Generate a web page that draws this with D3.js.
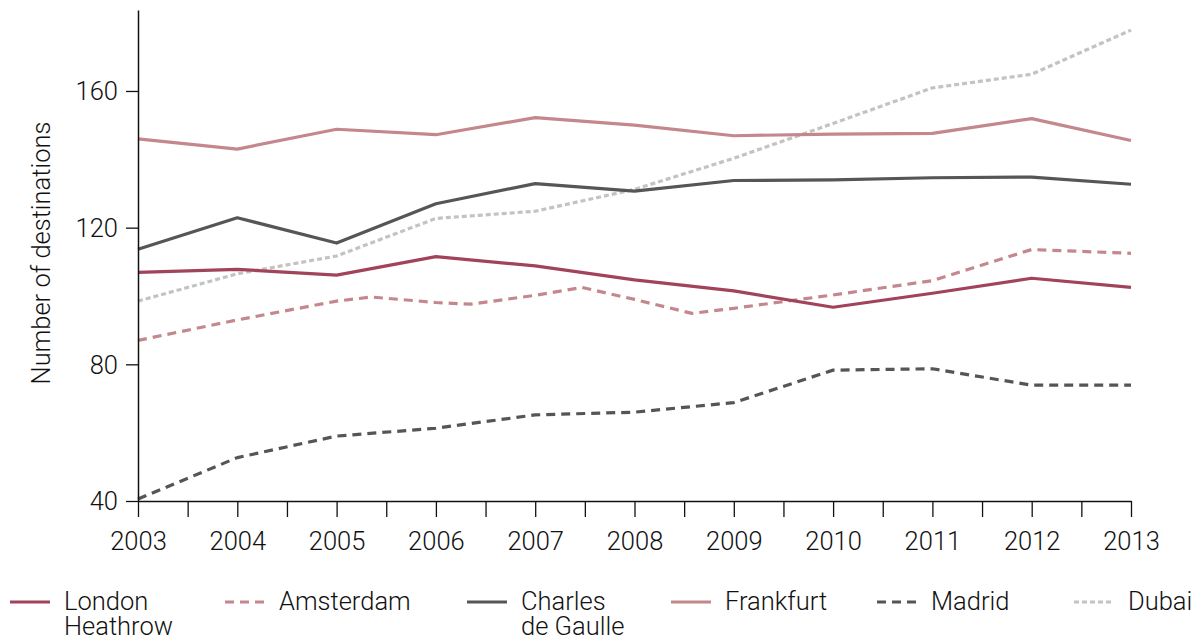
<!DOCTYPE html>
<html>
<head>
<meta charset="utf-8">
<script src="https://cdn.jsdelivr.net/npm/d3@7"></script>
<style>
  html, body { margin: 0; padding: 0; background: #fff; }
  svg { display: block; }
  text { font-family: Roboto, "Liberation Sans", sans-serif; font-weight: 300; fill: #111; }
</style>
</head>
<body>
<svg id="chart" width="1200" height="641"></svg>
<script>
// ---- data ----
const years = [2003, 2004, 2005, 2006, 2007, 2008, 2009, 2010, 2011, 2012, 2013];
const londonHeathrow = [106.9, 107.8, 106.1, 111.5, 108.8, 104.7, 101.5, 96.7, 100.8, 105.2, 102.5];
const frankfurt = [146.0, 143.0, 148.8, 147.2, 152.2, 150.0, 146.9, 147.4, 147.6, 151.9, 145.5];
const charlesDeGaulle = [113.7, 122.9, 115.5, 127.0, 132.9, 130.7, 133.8, 134.0, 134.6, 134.8, 132.7];
const dubai = [98.5, 106.5, 111.7, 122.7, 124.8, 131.2, 140.3, 150.5, 160.9, 164.9, 177.8];
const madrid = [40.6, 52.7, 59.0, 61.3, 65.2, 66.0, 68.8, 78.3, 78.7, 73.9, 73.9];
const amsterdamYears = [2003, 2004, 2005, 2005.35, 2006, 2006.35, 2007, 2007.47, 2008, 2008.58, 2009, 2010, 2011, 2012, 2013];
const amsterdam = [87.0, 93.0, 98.5, 99.7, 98.1, 97.6, 100.2, 102.5, 99.0, 94.9, 96.4, 100.3, 104.5, 113.6, 112.5];
const yTicks = [40, 80, 120, 160];
const yLabel = "Number of destinations";

const series = [
  { name: ["London", "Heathrow"], xs: years, ys: londonHeathrow, color: "#a1445b", dash: null },
  { name: ["Amsterdam"], xs: amsterdamYears, ys: amsterdam, color: "#c4878d", dash: "9,6" },
  { name: ["Charles", "de Gaulle"], xs: years, ys: charlesDeGaulle, color: "#565658", dash: null },
  { name: ["Frankfurt"], xs: years, ys: frankfurt, color: "#c4878d", dash: null },
  { name: ["Madrid"], xs: years, ys: madrid, color: "#555557", dash: "9,6" },
  { name: ["Dubai"], xs: years, ys: dubai, color: "#c3c3c3", dash: "5,3" }
];

// ---- layout ----
const FS = 25.5;
const svg = d3.select("#chart");
const x = d3.scaleLinear().domain([2003, 2013]).range([138, 1131]);
const y = d3.scaleLinear().domain([40, 183.7]).range([501, 10]);

// lines
const line = d3.line().x(d => x(d[0])).y(d => y(d[1]));
const drawOrder = [5, 4, 1, 3, 2, 0];
drawOrder.forEach(i => {
  const s = series[i];
  const pts = s.xs.map((xv, k) => [xv, s.ys[k]]);
  svg.append("path")
    .attr("d", line(pts))
    .attr("fill", "none")
    .attr("stroke", s.color)
    .attr("stroke-width", 3.2)
    .attr("stroke-linejoin", "round")
    .attr("stroke-dasharray", s.dash);
});

// y axis
const yAxis = d3.axisLeft(y).tickValues(yTicks).tickSize(12).tickPadding(8).tickSizeOuter(0);
const gy = svg.append("g").attr("transform", "translate(138,0)").call(yAxis);
gy.select(".domain").attr("stroke", "#111").attr("stroke-width", 1.5);
gy.selectAll(".tick line").attr("stroke", "#111").attr("stroke-width", 1.3);
gy.selectAll(".tick text").attr("font-size", FS).attr("font-family", null).attr("fill", "#111").attr("dy", "0.35em");

// x axis: half-year ticks, labels on whole years
const halfTicks = d3.range(0, 21).map(k => 2003 + k / 2);
const xAxis = d3.axisBottom(x).tickValues(halfTicks).tickSize(16).tickPadding(15).tickSizeOuter(0)
  .tickFormat(d => Number.isInteger(d) ? String(d) : "");
const gx = svg.append("g").attr("transform", "translate(0,501)").call(xAxis);
gx.select(".domain").attr("stroke", "#111").attr("stroke-width", 1.5);
gx.selectAll(".tick line").attr("stroke", "#111").attr("stroke-width", 1.3);
gx.selectAll(".tick text").attr("font-size", FS).attr("font-family", null).attr("fill", "#111");
svg.selectAll(".domain").attr("fill", "none");

// y label
svg.append("text")
  .attr("transform", "translate(50,253) rotate(-90)")
  .attr("text-anchor", "middle")
  .attr("font-size", FS)
  .text(yLabel);

// legend
const legendX = [10, 225, 467, 671, 877, 1074];
series.forEach((s, i) => {
  const g = svg.append("g").attr("transform", `translate(${legendX[i]},0)`);
  g.append("line")
    .attr("x1", 0).attr("x2", 40).attr("y1", 602).attr("y2", 602)
    .attr("stroke", s.color).attr("stroke-width", 3.2)
    .attr("stroke-dasharray", s.dash);
  s.name.forEach((nm, k) => {
    g.append("text").attr("x", 54).attr("y", 610 + k * 25).attr("font-size", FS).text(nm);
  });
});
</script>
</body>
</html>
